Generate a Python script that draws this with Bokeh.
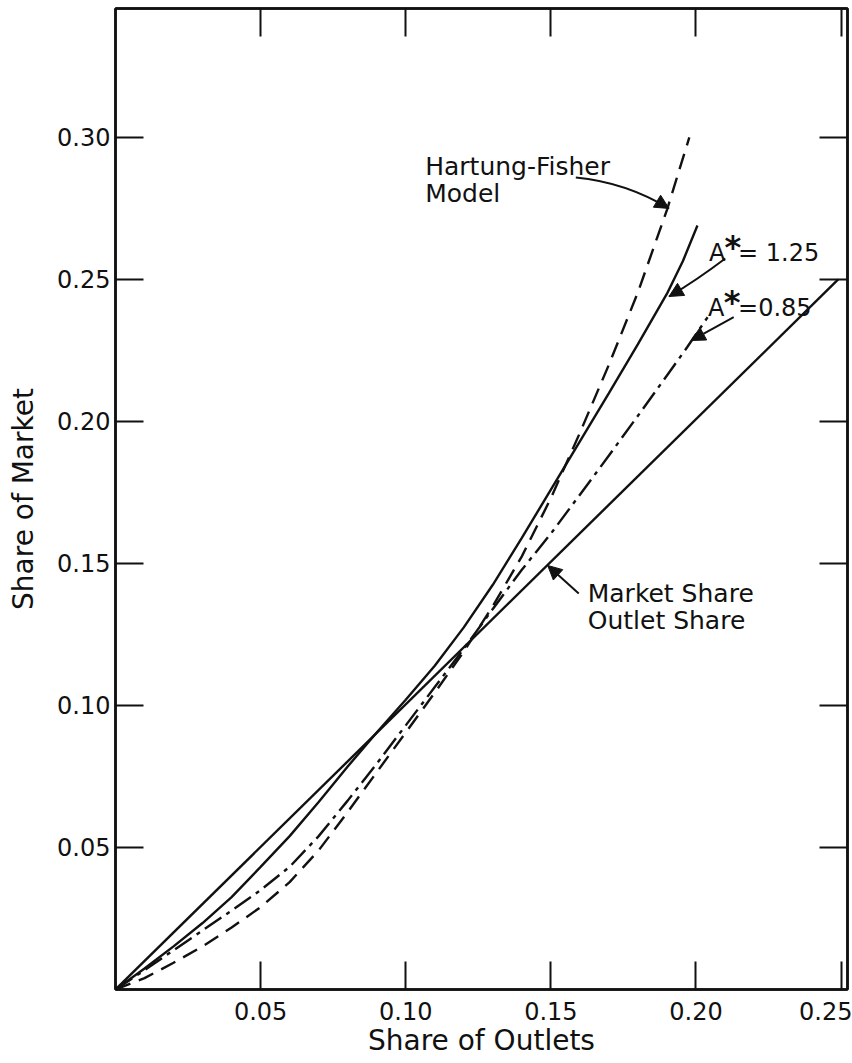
from bokeh.plotting import figure
from bokeh.models import LinearAxis, FixedTicker, Arrow, NormalHead, Label, Range1d
from bokeh.embed import file_html
from bokeh.resources import INLINE

# ---- data ----
x_ticks = [0.05, 0.10, 0.15, 0.20, 0.25]
x_tick_labels = ["0.05", "0.10", "0.15", "0.20", "0.25"]
y_ticks = [0.05, 0.10, 0.15, 0.20, 0.25, 0.30]
y_tick_labels = ["0.05", "0.10", "0.15", "0.20", "0.25", "0.30"]

# Market share = outlet share
equal_x = [0.0, 0.249]
equal_y = [0.0, 0.250]

# A* = 1.25 (solid)
a125_x = [0.0, 0.01, 0.02, 0.03, 0.04, 0.05, 0.06, 0.07, 0.08, 0.09, 0.10, 0.11,
          0.12, 0.13, 0.14, 0.15, 0.16, 0.17, 0.18, 0.19, 0.1955, 0.2005]
a125_y = [0.0, 0.0074, 0.0152, 0.0234, 0.0325, 0.0432, 0.0540, 0.0660, 0.0785, 0.0905,
          0.1020, 0.1140, 0.1275, 0.1425, 0.1590, 0.1760, 0.1930, 0.2100, 0.2272,
          0.2450, 0.2565, 0.2690]

# A* = 0.85 (dash-dot)
a085_x = [0.0, 0.01, 0.02, 0.03, 0.04, 0.05, 0.06, 0.07, 0.08, 0.09, 0.10, 0.11,
          0.12, 0.13, 0.14, 0.15, 0.16, 0.17, 0.18, 0.19, 0.197, 0.204]
a085_y = [0.0, 0.0068, 0.0138, 0.0208, 0.0278, 0.0350, 0.0432, 0.0540, 0.0665, 0.0795,
          0.0930, 0.1065, 0.1200, 0.1340, 0.1478, 0.1605, 0.1742, 0.1880, 0.2020,
          0.2162, 0.2262, 0.2367]

# Hartung-Fisher model (dashed)
hf_x = [0.0, 0.01, 0.02, 0.03, 0.04, 0.05, 0.06, 0.07, 0.08, 0.09, 0.10, 0.11,
        0.12, 0.13, 0.14, 0.15, 0.16, 0.17, 0.18, 0.19, 0.1977]
hf_y = [0.0, 0.0040, 0.0094, 0.0152, 0.0218, 0.0290, 0.0378, 0.0490, 0.0625, 0.0765,
        0.0905, 0.1045, 0.1190, 0.1350, 0.1525, 0.1730, 0.1960, 0.2200, 0.2455,
        0.2745, 0.3000]

FONT = "DejaVu Sans"
INK = "#111111"

p = figure(width=852, height=1063, x_range=Range1d(0, 0.2522), y_range=Range1d(0, 0.3454),
           output_backend="svg", toolbar_location=None,
           min_border_left=115, min_border_right=5, min_border_top=8, min_border_bottom=74)
p.grid.visible = False
p.outline_line_color = INK
p.outline_line_width = 2.5
p.background_fill_color = "white"
p.border_fill_color = "white"


def style_axis(ax, ticks, labels, show_labels):
    ax.ticker = FixedTicker(ticks=ticks)
    ax.major_tick_in = 28
    ax.major_tick_out = 0
    ax.major_tick_line_width = 2
    ax.major_tick_line_color = INK
    ax.minor_tick_line_color = None
    ax.axis_line_color = INK
    ax.axis_line_width = 2.5
    ax.major_label_text_font = FONT
    ax.major_label_text_color = INK
    if show_labels:
        ax.major_label_overrides = dict(zip(ticks, labels))
        ax.major_label_text_font_size = "24px"
    else:
        ax.major_label_overrides = {t: "" for t in ticks}
        ax.major_label_text_font_size = "2px"
        ax.major_label_standoff = 0


xa = p.xaxis[0]
style_axis(xa, x_ticks, x_tick_labels, True)
xa.major_label_standoff = 12
xa.axis_label = "Share of Outlets"
xa.axis_label_text_font = FONT
xa.axis_label_text_font_size = "28px"
xa.axis_label_text_font_style = "normal"
xa.axis_label_text_color = INK
xa.axis_label_standoff = 1

ya = p.yaxis[0]
style_axis(ya, y_ticks, y_tick_labels, True)
ya.major_label_standoff = 5
ya.axis_label = "Share of Market"
ya.axis_label_text_font = FONT
ya.axis_label_text_font_size = "28px"
ya.axis_label_text_font_style = "normal"
ya.axis_label_text_color = INK
ya.axis_label_standoff = 14

top = LinearAxis()
style_axis(top, x_ticks, x_tick_labels, False)
p.add_layout(top, "above")
right = LinearAxis()
style_axis(right, y_ticks, y_tick_labels, False)
p.add_layout(right, "right")

# ---- curves ----
p.line(equal_x, equal_y, line_width=2.4, color=INK)
p.line(a125_x, a125_y, line_width=2.4, color=INK)
p.line(a085_x, a085_y, line_width=2.4, color=INK, line_dash="20 6 4 6")
p.line(hf_x, hf_y, line_width=2.4, color=INK, line_dash="16 9")

# ---- annotations ----
def text(x, y, s, size="25px", style="normal"):
    p.add_layout(Label(x=x, y=y, text=s, text_font=FONT, text_font_size=size,
                       text_font_style=style, text_color=INK, text_baseline="alphabetic"))


text(0.1067, 0.2898, "Hartung-Fisher")
text(0.1067, 0.2803, "Model")
text(0.2045, 0.2592, "A", size="24px")
text(0.2098, 0.2613, "*", size="32px", style="bold")
text(0.2145, 0.2592, "= 1.25", size="24px")
text(0.2041, 0.2401, "A", size="24px")
text(0.2096, 0.2419, "*", size="32px", style="bold")
text(0.2145, 0.2401, "=0.85", size="24px")
text(0.1627, 0.1394, "Market Share")
text(0.1627, 0.1299, "Outlet Share")

# arrows: (tail, control, tip)
curved = [
    ((0.1586, 0.2859), (0.1758, 0.2842), (0.1907, 0.2750)),
    ((0.2101, 0.2574), (0.2000, 0.2496), (0.1907, 0.2440)),
]
for (x0, y0), (cx, cy), (x1, y1) in curved:
    p.quadratic(x0=[x0], y0=[y0], x1=[x1], y1=[y1], cx=[cx], cy=[cy], line_width=2, line_color=INK)
    p.add_layout(Arrow(x_start=cx, y_start=cy, x_end=x1, y_end=y1, line_color=None,
                       end=NormalHead(size=14, fill_color=INK, line_color=INK)))

straight = [
    ((0.2130, 0.2367), (0.1983, 0.2285)),
    ((0.1596, 0.1394), (0.1489, 0.1493)),
]
for (x0, y0), (x1, y1) in straight:
    p.add_layout(Arrow(x_start=x0, y_start=y0, x_end=x1, y_end=y1, line_color=INK, line_width=2,
                       end=NormalHead(size=14, fill_color=INK, line_color=INK)))

open("out.html", "w").write(file_html(p, INLINE))
